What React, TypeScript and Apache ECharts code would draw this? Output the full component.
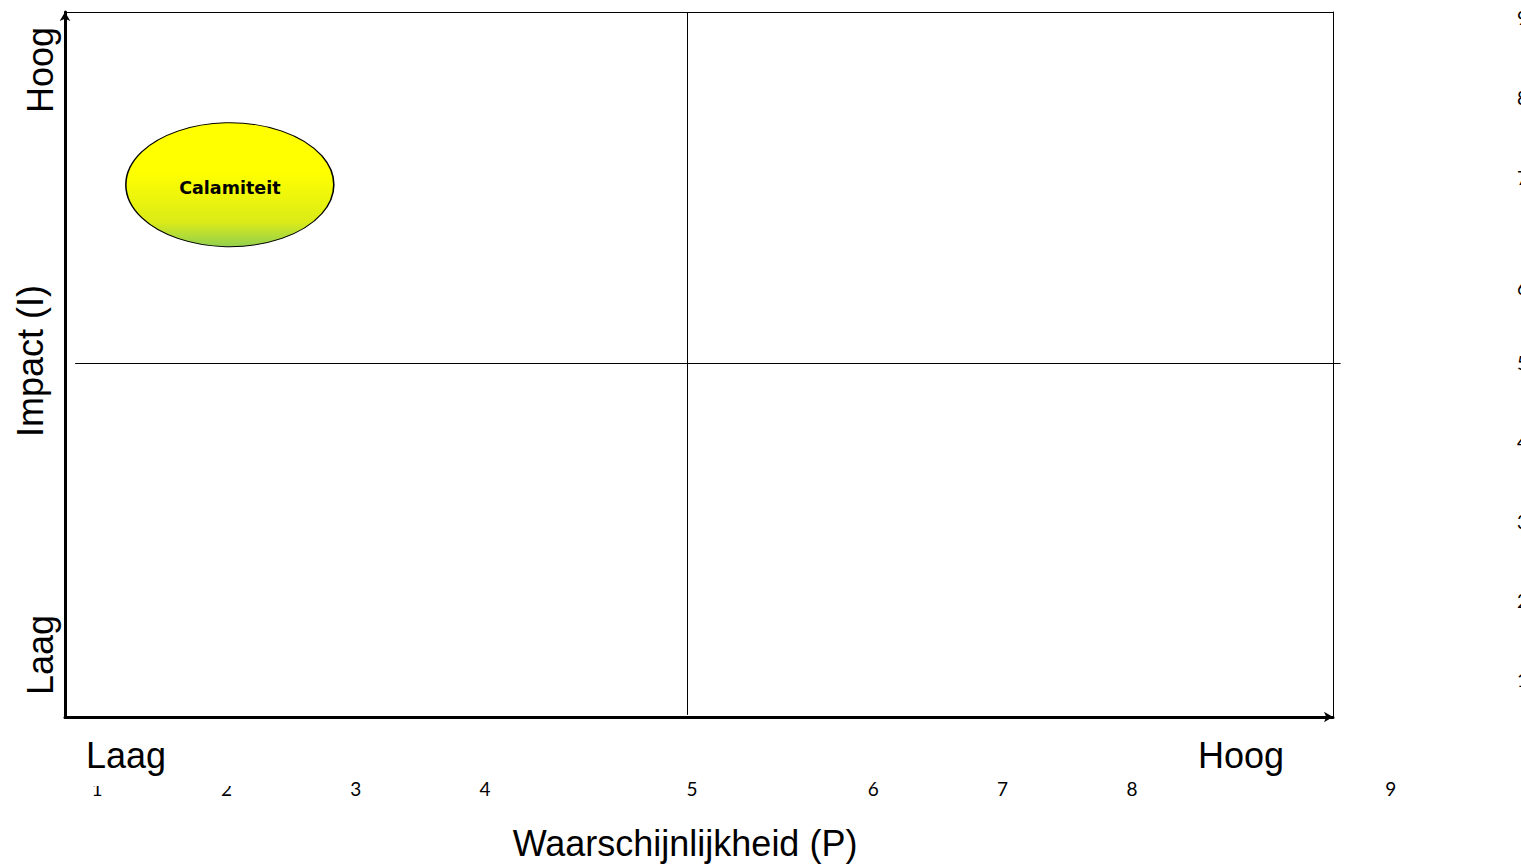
import React, { useEffect, useRef } from "react";
import * as echarts from "echarts";

// Tick labels and where they sit on their (irregular) scales
const xTickLabels = ["1", "2", "3", "4", "5", "6", "7", "8", "9"];
const xTickPositions = [1, 2, 3, 4, 5.6, 7, 8, 9, 11];
const yTickLabels = ["1", "2", "3", "4", "5", "6", "7", "8", "9"];
const yTickPositions = [1, 2, 3, 4, 5, 5.95, 7.33, 8.34, 9.35];

// Risks plotted in the matrix (P = waarschijnlijkheid, I = impact) on a 0-10 scale
const riskNames = ["Calamiteit"];
const riskP = [1.3];
const riskI = [7.55];

// Quadrant split lines
const splitP = 4.91;
const splitI = 5.02;
const vLineSpan = [0.03, 10];
const hLineSpan = [0.08, 10.06];

const xAxisName = "Waarschijnlijkheid (P)";
const yAxisName = "Impact (I)";
const lowLabel = "Laag";
const highLabel = "Hoog";

const BIG_FONT = "'Liberation Sans', Arial, sans-serif";
const SMALL_FONT = "Lato, 'Noto Sans', sans-serif";
const BUBBLE_FONT = "'DejaVu Sans', sans-serif";

function nearestLabel(v: number, pos: number[], labels: string[]) {
  let best = 0;
  for (let i = 1; i < pos.length; i++) {
    if (Math.abs(pos[i] - v) < Math.abs(pos[best] - v)) best = i;
  }
  return labels[best];
}

function bigText(text: string, x: number, y: number, rotate: boolean, extra: any = {}) {
  return {
    type: "text",
    x,
    y,
    z: 60,
    rotation: rotate ? Math.PI / 2 : 0,
    style: {
      text,
      fontSize: 36,
      fontFamily: BIG_FONT,
      fill: "#000",
      align: "center",
      verticalAlign: "middle",
      textAlign: "center",
      textVerticalAlign: "middle",
      ...extra,
    },
  };
}

export default function App() {
  const ref = useRef<HTMLDivElement>(null);

  useEffect(() => {
    if (!ref.current) return;
    const chart = echarts.init(ref.current, null, { renderer: "svg" });

    const hiddenAxisBits = {
      axisTick: { show: false },
      axisLabel: { show: false },
      splitLine: { show: false },
    };

    const option: any = {
      animation: false,
      backgroundColor: "#ffffff",
      grid: [
        { left: 65, right: 188, top: 12, bottom: 147, containLabel: false, outerBoundsMode: "none" },
        { left: 0, right: 10, top: 0, bottom: 89, containLabel: false, outerBoundsMode: "none" },
      ],
      xAxis: [
        {
          gridIndex: 0,
          type: "value",
          min: 0,
          max: 10,
          position: "bottom",
          axisLine: {
            show: true,
            onZero: false,
            lineStyle: { color: "#000", width: 3 },
            symbol: ["none", "arrow"],
            symbolSize: [8, 9],
          },
          ...hiddenAxisBits,
        },
        {
          gridIndex: 0,
          type: "value",
          min: 0,
          max: 10,
          position: "top",
          axisLine: { show: true, onZero: false, lineStyle: { color: "#000", width: 1 } },
          ...hiddenAxisBits,
        },
        {
          gridIndex: 1,
          type: "value",
          min: 0.25,
          max: 11.93,
          position: "bottom",
          axisLine: { show: false, onZero: false },
          axisTick: { show: false },
          splitLine: { show: false },
          axisLabel: {
            show: true,
            customValues: xTickPositions,
            formatter: (v: number) => nearestLabel(v, xTickPositions, xTickLabels),
            fontSize: 19,
            fontFamily: SMALL_FONT,
            color: "#000",
            margin: 4,
            hideOverlap: false,
          },
        },
      ],
      yAxis: [
        {
          gridIndex: 0,
          type: "value",
          min: 0,
          max: 10,
          position: "left",
          axisLine: {
            show: true,
            onZero: false,
            lineStyle: { color: "#000", width: 3 },
            symbol: ["none", "arrow"],
            symbolSize: [8, 9],
          },
          ...hiddenAxisBits,
        },
        {
          gridIndex: 0,
          type: "value",
          min: 0,
          max: 10,
          position: "right",
          axisLine: { show: true, onZero: false, lineStyle: { color: "#000", width: 1 } },
          ...hiddenAxisBits,
        },
        {
          gridIndex: 1,
          type: "value",
          min: -0.2,
          max: 9.573,
          position: "right",
          axisLine: { show: false, onZero: false },
          axisTick: { show: false },
          splitLine: { show: false },
          axisLabel: {
            show: true,
            customValues: yTickPositions,
            formatter: (v: number) => nearestLabel(v, yTickPositions, yTickLabels),
            fontSize: 19,
            fontFamily: SMALL_FONT,
            color: "#000",
            margin: 6,
            align: "left",
            hideOverlap: false,
          },
        },
      ],
      series: [
        {
          type: "lines",
          coordinateSystem: "cartesian2d",
          xAxisIndex: 0,
          yAxisIndex: 0,
          clip: false,
          silent: true,
          lineStyle: { color: "#000", width: 1, opacity: 1 },
          data: [
            { coords: [[splitP, vLineSpan[0]], [splitP, vLineSpan[1]]] },
            { coords: [[hLineSpan[0], splitI], [hLineSpan[1], splitI]] },
          ],
        },
        {
          type: "scatter",
          xAxisIndex: 0,
          yAxisIndex: 0,
          symbol: "circle",
          symbolSize: [208, 124],
          z: 5,
          itemStyle: {
            color: new echarts.graphic.LinearGradient(0, 0, 0, 1, [
              { offset: 0, color: "#ffff00" },
              { offset: 0.4, color: "#ffff00" },
              { offset: 0.8, color: "#dbeb17" },
              { offset: 1, color: "#92d050" },
            ]),
            borderColor: "#000",
            borderWidth: 1.2,
            opacity: 1,
          },
          label: {
            show: true,
            position: "inside",
            formatter: "{b}",
            fontSize: 17.5,
            fontWeight: "bold",
            fontFamily: BUBBLE_FONT,
            color: "#000",
            offset: [0, 3],
          },
          data: riskNames.map((n, i) => ({ name: n, value: [riskP[i], riskI[i]] })),
        },
      ],
      graphic: [
        {
          type: "rect",
          z: 55,
          shape: { x: 80, y: 728, width: 160, height: 58 },
          style: { fill: "#ffffff" },
        },
        bigText(highLabel, 40, 70, true),
        bigText(yAxisName, 30, 361, true),
        bigText(lowLabel, 40, 655, true),
        bigText(lowLabel, 126, 755, false),
        bigText(highLabel, 1241, 755, false),
        bigText(xAxisName, 685, 843, false),
      ],
    };

    chart.setOption(option);
    return () => chart.dispose();
  }, []);

  return (
    <div
      ref={ref}
      style={{ position: "absolute", left: 0, top: 0, width: 1521, height: 864, background: "#fff" }}
    />
  );
}
